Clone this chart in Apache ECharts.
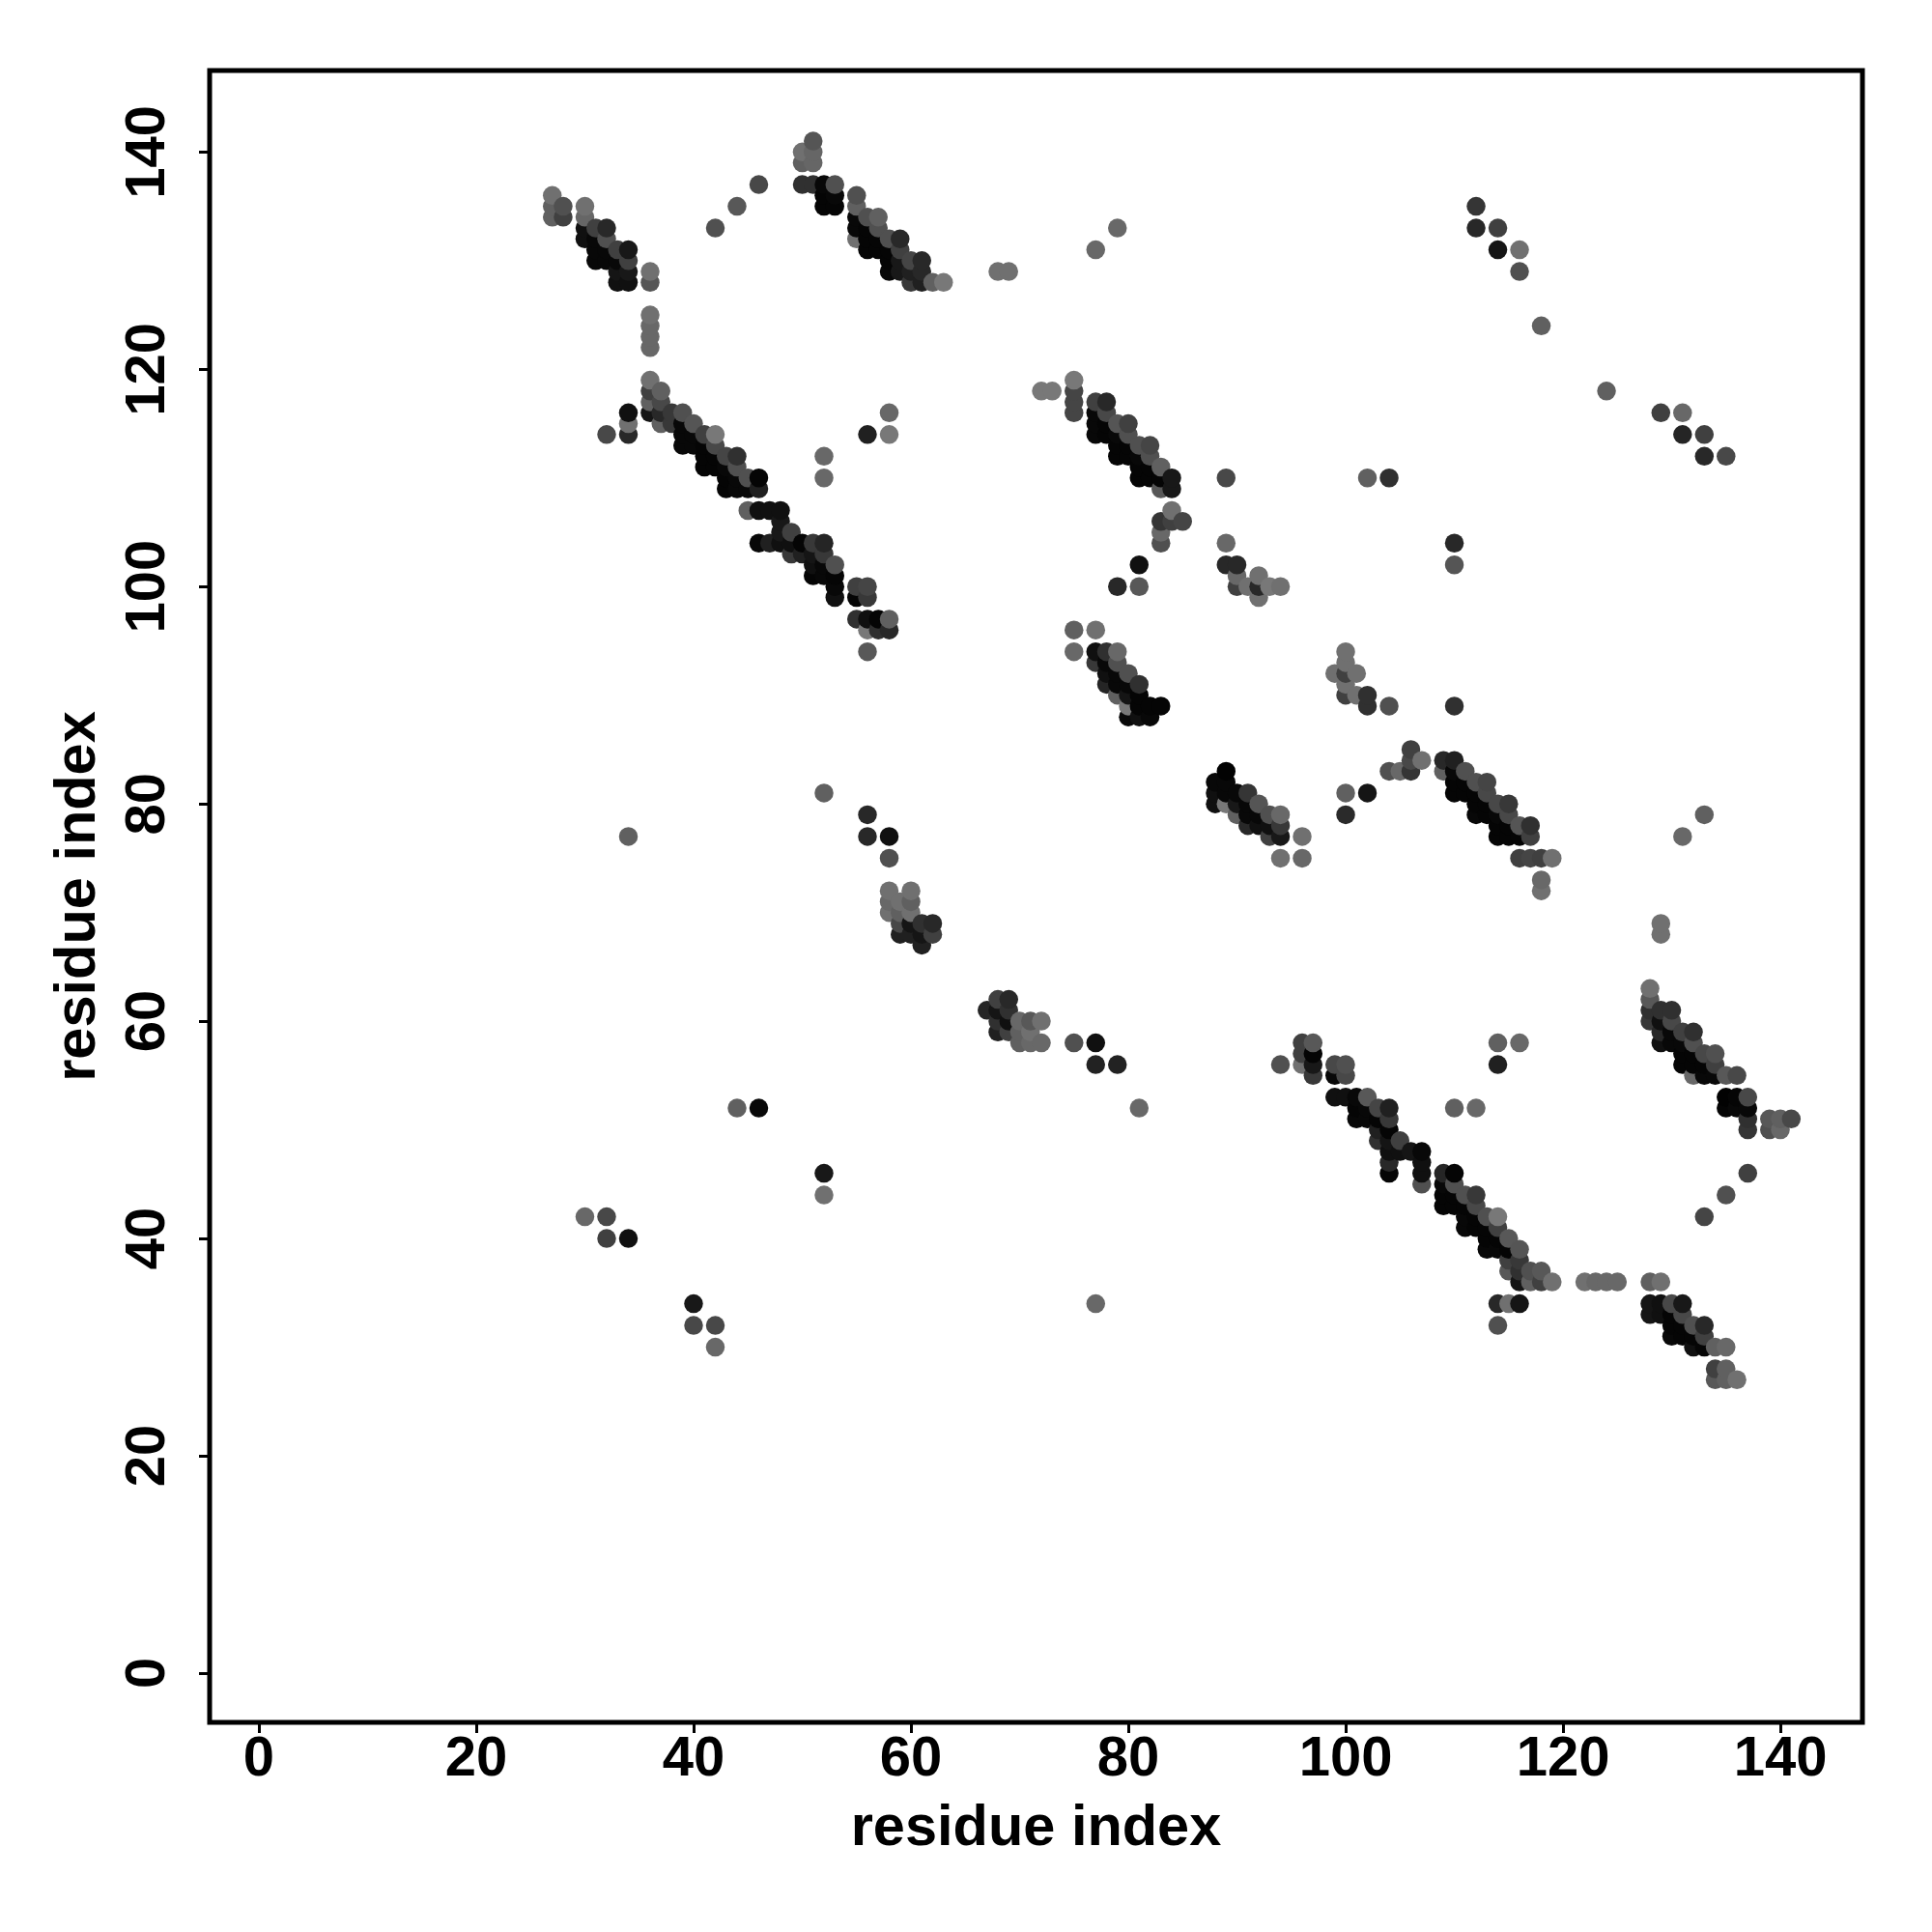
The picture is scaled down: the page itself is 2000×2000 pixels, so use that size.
<!DOCTYPE html>
<html><head><meta charset="utf-8">
<style>html,body{margin:0;padding:0;background:#fff}#c{width:2000px;height:2000px}</style>
<script src="https://cdn.jsdelivr.net/npm/echarts@6/dist/echarts.min.js"></script>
</head><body><div id="c"></div>
<script>
// each entry: [residue x, residue y, grey level]
const tickValues = [0,20,40,60,80,100,120,140];
const bandTopLeft = [[27,136,0x70],[27,135,0x60],[27,134,0x60],[28,135,0x50],[28,134,0x40],[30,135,0x70],[30,134,0x66],[30,133,0x10],[30,132,0x10],[31,133,0x40],[31,132,0x08],[31,131,0x08],[31,130,0x08],[32,133,0x28],[32,132,0x50],[32,131,0x08],[32,130,0x08],[33,131,0x40],[33,130,0x08],[33,129,0x15],[33,128,0x10],[34,131,0x18],[34,130,0x40],[34,129,0x18],[34,128,0x10],[36,129,0x70],[36,128,0x55],[36,125,0x70],[36,124,0x68],[36,123,0x68],[36,122,0x68]];
const bandTopMid = [[42,133,0x50],[44,135,0x58],[46,137,0x48],[50,140,0x70],[50,139,0x60],[51,141,0x55],[51,140,0x66],[51,139,0x66],[50,137,0x30],[51,137,0x30],[52,137,0x08],[52,136,0x05],[52,135,0x05],[53,137,0x50],[53,136,0x08],[53,135,0x05],[55,136,0x50],[55,135,0x60],[55,134,0x08],[55,133,0x08],[55,132,0x70],[56,134,0x50],[56,133,0x05],[56,132,0x05],[56,131,0x05],[57,134,0x60],[57,133,0x50],[57,132,0x05],[57,131,0x05],[58,132,0x50],[58,131,0x05],[58,130,0x05],[58,129,0x08],[59,132,0x28],[59,131,0x40],[59,130,0x18],[59,129,0x18],[60,130,0x45],[60,129,0x20],[60,128,0x38],[61,130,0x28],[61,129,0x28],[61,128,0x20],[62,128,0x60],[63,128,0x78]];
const bandUpperLong = [[36,119,0x70],[36,118,0x40],[36,117,0x60],[36,116,0x15],[37,118,0x60],[37,117,0x48],[37,116,0x28],[37,115,0x60],[34,116,0x10],[34,115,0x70],[34,114,0x28],[32,114,0x48],[38,116,0x38],[38,115,0x38],[39,116,0x50],[39,115,0x08],[39,114,0x08],[39,113,0x08],[40,115,0x55],[40,114,0x08],[40,113,0x08],[41,114,0x40],[41,113,0x05],[41,112,0x05],[41,111,0x05],[42,114,0x78],[42,113,0x48],[42,112,0x05],[42,111,0x05],[43,112,0x45],[43,111,0x08],[43,110,0x05],[43,109,0x05],[44,112,0x30],[44,111,0x50],[44,110,0x08],[44,109,0x08],[45,110,0x50],[45,109,0x08],[45,107,0x60],[46,110,0x05],[46,109,0x20],[46,107,0x10],[47,107,0x10],[48,107,0x10],[48,106,0x18],[48,105,0x18],[48,104,0x10],[46,104,0x08],[47,104,0x20],[49,105,0x40],[49,104,0x10],[49,103,0x38],[50,104,0x05],[50,103,0x20],[51,104,0x38],[51,103,0x15],[51,102,0x10],[51,101,0x05],[52,104,0x25],[52,103,0x38],[52,102,0x08],[52,101,0x08],[53,102,0x50],[53,101,0x05],[53,100,0x08],[53,99,0x10],[55,100,0x40],[55,99,0x05],[56,100,0x45],[56,99,0x38],[55,97,0x30],[56,97,0x10],[56,96,0x78],[56,94,0x58],[57,97,0x05],[57,96,0x30],[58,97,0x60],[58,96,0x28],[52,112,0x68],[52,110,0x68],[58,116,0x68],[58,114,0x78],[56,114,0x20]];
const bandCentre = [[72,118,0x78],[73,118,0x78],[75,119,0x78],[75,118,0x45],[75,117,0x45],[75,116,0x45],[77,117,0x40],[77,116,0x08],[77,115,0x08],[77,114,0x08],[78,117,0x28],[78,116,0x48],[78,115,0x05],[78,114,0x05],[79,115,0x55],[79,114,0x08],[79,113,0x05],[79,112,0x05],[80,115,0x40],[80,114,0x50],[80,113,0x05],[80,112,0x05],[81,113,0x50],[81,112,0x08],[81,111,0x05],[81,110,0x05],[82,113,0x45],[82,112,0x50],[82,111,0x05],[82,110,0x05],[83,111,0x60],[83,110,0x05],[83,109,0x58],[84,110,0x18],[84,109,0x18],[84,107,0x70],[83,106,0x35],[84,106,0x40],[85,106,0x45],[83,105,0x68],[83,104,0x50],[81,102,0x10],[79,100,0x28],[81,100,0x58],[89,110,0x48],[89,104,0x68],[89,102,0x28],[90,102,0x28],[90,101,0x68],[90,100,0x40],[91,100,0x70],[92,101,0x70],[92,100,0x28],[92,99,0x70],[93,100,0x78],[94,100,0x70]];
const bandMiddle = [[75,96,0x60],[77,96,0x70],[75,94,0x68],[77,94,0x10],[77,93,0x38],[78,94,0x30],[78,93,0x08],[78,92,0x10],[78,91,0x25],[79,94,0x68],[79,93,0x50],[79,92,0x08],[79,91,0x08],[79,90,0x60],[80,92,0x50],[80,91,0x08],[80,90,0x15],[80,89,0x78],[80,88,0x08],[81,91,0x30],[81,90,0x05],[81,89,0x05],[81,88,0x10],[82,89,0x05],[82,88,0x08],[83,89,0x05],[100,94,0x70],[100,93,0x70],[99,92,0x70],[100,92,0x40],[101,92,0x70],[100,91,0x70],[100,90,0x40],[101,90,0x70],[102,90,0x30],[102,89,0x30],[104,89,0x50],[110,89,0x30]];
const bandLower = [[89,83,0x02],[88,82,0x08],[89,82,0x08],[88,81,0x10],[89,81,0x08],[88,80,0x10],[89,80,0x78],[90,81,0x08],[90,80,0x18],[90,79,0x60],[91,81,0x35],[91,80,0x08],[91,79,0x08],[91,78,0x28],[92,80,0x55],[92,79,0x08],[92,78,0x10],[93,79,0x50],[93,78,0x10],[93,77,0x40],[94,79,0x68],[94,78,0x38],[94,77,0x18],[96,77,0x70],[94,75,0x70],[96,75,0x68],[100,81,0x60],[102,81,0x15],[100,79,0x2a],[106,85,0x40],[106,84,0x48],[106,83,0x35],[107,84,0x70],[104,83,0x50],[105,83,0x68],[109,84,0x28],[109,83,0x60],[110,84,0x20],[110,83,0x08],[110,82,0x05],[110,81,0x05],[111,83,0x50],[111,82,0x05],[111,81,0x05],[112,82,0x50],[112,81,0x05],[112,80,0x05],[112,79,0x08],[113,82,0x45],[113,81,0x48],[113,80,0x05],[113,79,0x05],[114,80,0x48],[114,79,0x08],[114,78,0x05],[114,77,0x05],[115,80,0x38],[115,79,0x48],[115,78,0x05],[115,77,0x05],[116,78,0x55],[116,77,0x05],[117,78,0x30],[117,77,0x40],[116,75,0x40],[117,75,0x45],[118,75,0x40],[119,75,0x70],[118,73,0x68],[118,72,0x70]];
const blobs = [[58,75,0x50],[58,72,0x70],[60,72,0x70],[58,71,0x68],[59,71,0x70],[60,71,0x60],[58,70,0x70],[59,70,0x60],[60,70,0x70],[59,69,0x48],[60,69,0x15],[59,68,0x20],[60,68,0x20],[61,69,0x30],[62,69,0x28],[61,68,0x15],[62,68,0x40],[61,67,0x20],[68,62,0x40],[69,62,0x28],[67,61,0x25],[68,61,0x15],[69,61,0x30],[68,60,0x30],[69,60,0x10],[70,60,0x68],[71,60,0x58],[72,60,0x70],[68,59,0x20],[69,59,0x40],[70,59,0x60],[71,59,0x70],[70,58,0x60],[71,58,0x68],[72,58,0x68],[75,58,0x50],[77,58,0x10],[77,56,0x22],[79,56,0x22]];
const bandBottom = [[94,56,0x50],[96,58,0x40],[97,58,0x58],[96,57,0x40],[97,57,0x05],[96,56,0x70],[97,56,0x18],[97,55,0x38],[99,56,0x48],[99,55,0x08],[100,56,0x50],[100,55,0x48],[99,53,0x10],[100,53,0x10],[101,53,0x08],[102,53,0x58],[101,52,0x05],[101,51,0x08],[102,52,0x08],[102,51,0x08],[103,52,0x45],[103,51,0x05],[104,52,0x20],[104,51,0x38],[104,50,0x05],[103,50,0x20],[103,49,0x30],[104,49,0x15],[105,49,0x40],[104,48,0x10],[105,48,0x10],[106,48,0x15],[107,48,0x08],[107,47,0x10],[107,46,0x10],[107,45,0x50],[104,47,0x28],[104,46,0x05],[109,46,0x25],[110,46,0x05],[109,45,0x08],[110,45,0x50],[109,44,0x05],[109,43,0x05],[110,44,0x05],[110,43,0x05],[111,44,0x50],[112,44,0x38],[111,43,0x05],[111,42,0x08],[111,41,0x08],[112,43,0x48],[112,42,0x05],[112,41,0x05],[113,42,0x50],[114,42,0x78],[114,41,0x40],[113,41,0x05],[113,40,0x05],[113,39,0x08],[114,40,0x05],[114,39,0x08],[115,40,0x58],[115,39,0x05],[116,39,0x55],[115,38,0x40],[116,38,0x38],[115,37,0x58],[116,37,0x30],[116,36,0x15],[117,37,0x50],[118,37,0x58],[117,36,0x60],[118,36,0x40],[119,36,0x70],[122,36,0x70],[123,36,0x68],[124,36,0x68],[125,36,0x68],[114,34,0x28],[115,34,0x70],[116,34,0x15],[114,32,0x50]];
const bandCorner = [[128,36,0x60],[129,36,0x70],[128,34,0x15],[129,34,0x10],[130,34,0x48],[131,34,0x18],[128,33,0x15],[129,33,0x10],[130,33,0x05],[131,33,0x48],[130,32,0x05],[132,32,0x50],[133,32,0x28],[130,31,0x08],[131,32,0x05],[131,31,0x05],[132,31,0x05],[133,31,0x40],[132,30,0x10],[133,30,0x05],[134,30,0x60],[135,30,0x68],[134,28,0x40],[135,28,0x60],[134,27,0x58],[135,27,0x60],[136,27,0x70]];
const bandRight = [[128,63,0x70],[128,62,0x58],[128,61,0x30],[128,60,0x38],[129,61,0x30],[129,60,0x10],[129,59,0x28],[129,58,0x10],[130,61,0x30],[130,60,0x48],[130,59,0x08],[130,58,0x08],[131,59,0x40],[131,58,0x08],[131,57,0x05],[131,56,0x05],[132,59,0x30],[132,58,0x50],[132,57,0x05],[132,56,0x05],[132,55,0x68],[133,57,0x48],[133,56,0x05],[133,55,0x08],[134,57,0x50],[134,56,0x40],[134,55,0x08],[135,55,0x58],[136,55,0x48],[135,53,0x02],[135,52,0x05],[136,53,0x05],[136,52,0x08],[137,53,0x48],[137,52,0x08],[137,51,0x30],[137,50,0x35],[139,51,0x58],[140,51,0x60],[141,51,0x48],[139,50,0x50],[140,50,0x68]];
const isolated = [[112,135,0x35],[112,133,0x28],[114,133,0x40],[114,131,0x15],[116,131,0x70],[116,129,0x50],[118,124,0x60],[124,118,0x60],[68,129,0x70],[69,129,0x70],[77,131,0x68],[79,133,0x68],[129,116,0x40],[131,116,0x68],[131,114,0x25],[133,114,0x40],[133,112,0x28],[135,112,0x48],[102,110,0x60],[104,110,0x30],[110,104,0x28],[110,102,0x55],[52,81,0x60],[56,79,0x28],[56,77,0x28],[58,77,0x10],[34,77,0x60],[131,77,0x68],[133,79,0x60],[129,69,0x70],[129,68,0x70],[44,52,0x60],[46,52,0x08],[81,52,0x68],[110,52,0x60],[112,52,0x68],[114,58,0x60],[116,58,0x68],[114,56,0x20],[52,46,0x18],[52,44,0x70],[30,42,0x68],[32,42,0x48],[32,40,0x40],[34,40,0x10],[40,34,0x18],[40,32,0x48],[42,32,0x48],[42,30,0x68],[77,34,0x68],[133,42,0x45],[135,44,0x50],[137,46,0x40]];

const points = [].concat(bandTopLeft,bandTopMid,bandUpperLong,bandCentre,bandMiddle,bandLower,blobs,bandBottom,bandCorner,bandRight,isolated)
  .sort((a,b)=>a[0]-b[0]||a[1]-b[1]);

const font = 'Liberation Sans';
const axisCommon = {
  type:'value', min:-4.53, max:147.55, name:'residue index', nameLocation:'middle', nameMoveOverlap:false,
  nameTextStyle:{color:'#000',fontFamily:font,fontWeight:'bold',fontSize:59.5},
  splitLine:{show:false}, axisLine:{show:false,onZero:false},
  axisTick:{show:true,customValues:tickValues,length:11,inside:false,lineStyle:{color:'#000',width:3}},
  axisLabel:{show:true,customValues:tickValues,color:'#000',fontFamily:font,fontWeight:'bold',fontSize:58,margin:10}
};
const chart = echarts.init(document.getElementById('c'),null,{renderer:'canvas'});
chart.setOption({
  animation:false, backgroundColor:'#fff',
  grid:{left:217,right:72,top:73,bottom:217,show:true,borderColor:'#000',borderWidth:5,backgroundColor:'transparent'},
  xAxis:Object.assign({},axisCommon,{nameGap:81}),
  yAxis:Object.assign({},axisCommon,{min:-4.54,max:147.5,nameRotate:90,nameGap:105,
    axisLabel:Object.assign({},axisCommon.axisLabel,{rotate:90,margin:34})}),
  series:[{type:'scatter',data:points,symbol:'circle',symbolSize:19.5,silent:true,clip:false,
    itemStyle:{opacity:1,color:p=>{const g=p.data[2];return 'rgb('+g+','+g+','+g+')';}}}]
});
</script></body></html>
